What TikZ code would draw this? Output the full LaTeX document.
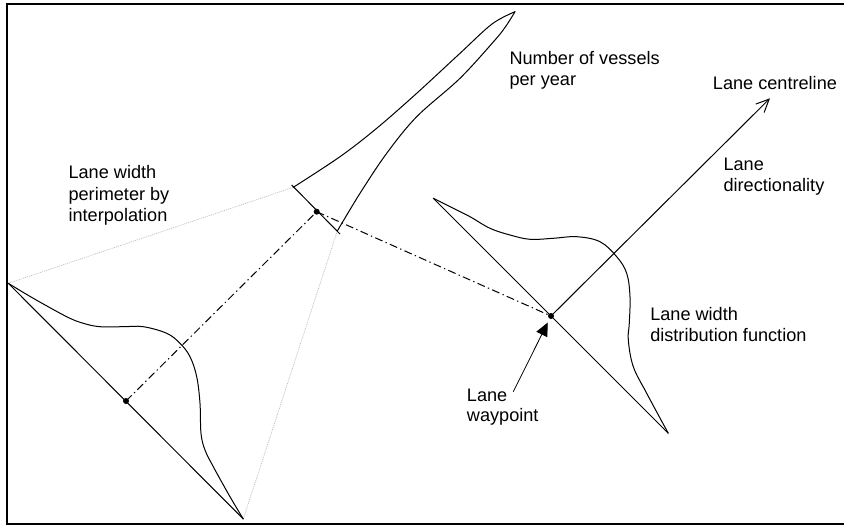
\documentclass[tikz,border=0pt]{standalone}
\usepackage{fontspec}
\setmainfont{Liberation Sans}
\usetikzlibrary{arrows.meta}
\begin{document}
\begin{tikzpicture}[x=0.75pt,y=-0.75pt,
  curve/.style={line width=0.75pt, line join=round, line cap=round},
  baseln/.style={line width=0.75pt},
  guide/.style={gray!55, line width=0.5pt, dash pattern=on 0.75pt off 0.75pt},
  dashdot/.style={line width=0.75pt, dash pattern=on 6pt off 2.5pt on 1pt off 2.5pt},
  lbl/.style={anchor=base west, inner sep=0pt, font=\fontsize{13.6}{16}\selectfont},
  dot/.style={circle, fill=black, inner sep=0pt, minimum size=4.5pt}]
\useasboundingbox (0,0) rectangle (844,525);
% frame (right side lies outside the picture)
\draw[line width=1.5pt] (844,4.3) -- (6.7,4.3) -- (6.7,524) -- (844,524);

% key points
\coordinate (L1) at (8.3,283.3);
\coordinate (L2) at (243.3,519);
\coordinate (LW) at (126,401);
\coordinate (Ta) at (291.7,185);
\coordinate (Tb) at (340,234);
\coordinate (T1) at (293.3,187.3);
\coordinate (T2) at (337.3,231);
\coordinate (TW) at (316.7,211.7);
\coordinate (PK) at (515,11.7);
\coordinate (R1) at (433.3,198.3);
\coordinate (R2) at (668.3,433.3);
\coordinate (RW) at (551,316);
\coordinate (CL) at (770,98.3);
\coordinate (WT) at (513.3,391.7);

% interpolation guides
\draw[guide] (T1) -- (L1);
\draw[guide] (T2) -- (L2);

% left distribution
\draw[baseln] (L1) -- (L2);
\draw[curve] plot[smooth, tension=0.6] coordinates {(8.3,283.3) (33.3,298.3) (66.7,316.7) (83.3,323.3) (100,326.7) (123.3,326.7) (143.3,326.7) (166.7,333.3) (180,343.3) (190,356.7) (196.7,376.7) (200,403.3) (201,433.3) (205,450) (213.3,466.7) (230,496.7) (243.3,519)};

% top distribution (number of vessels)
\draw[baseln] (Ta) -- (Tb);
\draw[curve] plot[smooth, tension=0.55] coordinates {(293.3,187.3) (340,156.7) (376.7,128.3) (416.7,93.3) (460,53.3) (492,24) (515,11.7)};
\draw[curve] plot[smooth, tension=0.55] coordinates {(515,11.7) (506,26) (495,40) (460,78.3) (416.7,116.7) (386.7,153.3) (360,193.3) (337.3,231)};

% right distribution
\draw[baseln] (R1) -- (R2);
\draw[curve] plot[smooth, tension=0.6] coordinates {(433.3,198.3) (453.3,208.3) (470,216.7) (490,228.3) (510,235) (530,239.3) (553.3,238.3) (576.7,236.7) (600,241.7) (616.7,256.7) (626.7,273.3) (630,296.7) (629.3,323.3) (628.3,340) (633.3,366.7) (646.7,393.3) (668.3,433.3)};

% lane centreline
\draw[line width=0.75pt, -{Straight Barb[length=9.7pt,width=8.9pt,line width=0.75pt]}] (RW) -- (CL);

% interpolation links
\draw[dashdot] (LW) -- (TW);
\draw[dashdot] (TW) -- (RW);

% waypoint dots
\node[dot] (lwdot) at (LW) {};
\node[dot] (twdot) at (TW) {};
\node[dot] (rwdot) at (RW) {};

% waypoint pointer
\draw[line width=0.6pt, -{Triangle[length=10pt,width=9pt]}, shorten >=3pt] (WT) -- (rwdot);

% labels
\node[lbl] (nv1) at (509.3,64) {Number of vessels};
\node[lbl] (nv2) at (509.3,85) {per year};
\node[lbl] (lc) at (712.7,89) {Lane centreline};
\node[lbl] (ld1) at (723.3,170.3) {Lane};
\node[lbl] (ld2) at (723.3,191.7) {directionality};
\node[lbl] (lwd1) at (650,320) {Lane width};
\node[lbl] (lwd2) at (650,341.7) {distribution function};
\node[lbl] (wp1) at (466.7,401.3) {Lane};
\node[lbl] (wp2) at (466.7,421.7) {waypoint};
\node[lbl] (pi1) at (68.3,178.3) {Lane width};
\node[lbl] (pi2) at (68.3,200) {perimeter by};
\node[lbl] (pi3) at (68.3,221.7) {interpolation};
\end{tikzpicture}
\end{document}
